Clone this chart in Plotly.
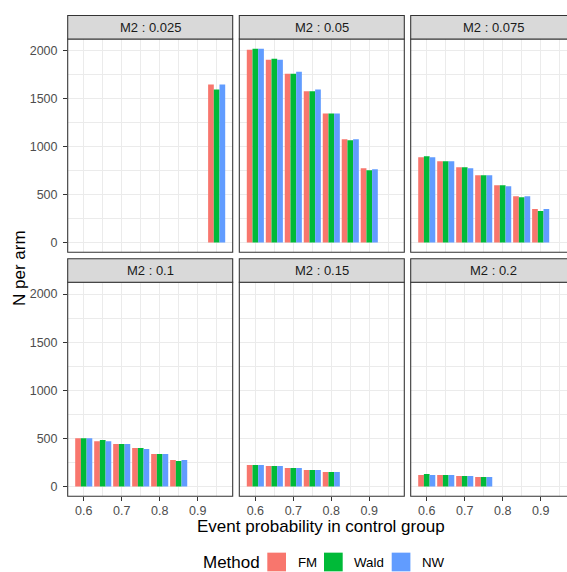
import plotly.graph_objects as go

# ---- data -------------------------------------------------------------
p_control = [0.6, 0.65, 0.7, 0.75, 0.8, 0.85, 0.9, 0.95]
m2_levels = ["0.025", "0.05", "0.075", "0.1", "0.15", "0.2"]
methods = ["FM", "Wald", "NW"]
colors = ["#F8766D", "#00BA38", "#619CFF"]

N = None
fm_025 = [N, N, N, N, N, N, N, 1648]
wald_025 = [N, N, N, N, N, N, N, 1595]
nw_025 = [N, N, N, N, N, N, N, 1648]

fm_05 = [2010, 1907, 1761, 1578, 1346, 1076, 775, N]
wald_05 = [2021, 1917, 1761, 1578, 1346, 1066, 754, N]
nw_05 = [2021, 1907, 1782, 1595, 1346, 1076, 765, N]

fm_075 = [889, 848, 785, 702, 599, 484, 349, N]
wald_075 = [900, 848, 785, 702, 599, 474, 329, N]
nw_075 = [889, 848, 775, 702, 588, 484, 349, N]

fm_1 = [503, 472, 441, 400, 338, 276, N, N]
wald_1 = [503, 483, 441, 400, 338, 266, N, N]
nw_1 = [503, 472, 441, 390, 338, 276, N, N]

fm_15 = [224, 214, 193, 172, 152, N, N, N]
wald_15 = [224, 214, 193, 172, 152, N, N, N]
nw_15 = [224, 214, 193, 172, 152, N, N, N]

fm_2 = [121, 121, 110, 100, N, N, N, N]
wald_2 = [131, 121, 110, 100, N, N, N, N]
nw_2 = [121, 121, 110, 100, N, N, N, N]

panel_values = [
    [fm_025, wald_025, nw_025],
    [fm_05, wald_05, nw_05],
    [fm_075, wald_075, nw_075],
    [fm_1, wald_1, nw_1],
    [fm_15, wald_15, nw_15],
    [fm_2, wald_2, nw_2],
]

# ---- layout geometry (pixels) -----------------------------------------
W, H = 567, 572
col_px = [(67.7, 232.7), (239.3, 404.3), (410.7, 575.7)]
row_px = [(39.0, 252.3), (282.3, 496.3)]
strip_h = 23.5

def fx(px):
    return px / W

def fy(py):
    return 1 - py / H

FONT = "Liberation Sans, Arial, Helvetica, sans-serif"
GRID = "#EBEBEB"
BORDER = "#333333"
TICK_SIZE = 12.5
STRIP_SIZE = 13
TITLE_SIZE = 17
LEGEND_LABEL_SIZE = 13.3

# dodge geometry: group width 0.9 of the 0.05 spacing, three bars
step = 0.05
group_w = 0.9 * step
bar_w = group_w / len(methods)

x_lo = min(p_control) - group_w / 2
x_hi = max(p_control) + group_w / 2
x_pad = 0.05 * (x_hi - x_lo)
x_range = [x_lo - x_pad, x_hi + x_pad]

all_vals = [v for panel in panel_values for s in panel for v in s if v is not None]
y_max = max(all_vals)
y_range = [-0.05 * y_max, y_max * 1.05]

fig = go.Figure()
shapes = []
annotations = []

for k, (level, series) in enumerate(zip(m2_levels, panel_values)):
    r, c = divmod(k, 3)
    ax = "" if k == 0 else str(k + 1)
    xa, ya = "x" + ax, "y" + ax
    (x0p, x1p), (y0p, y1p) = col_px[c], row_px[r]

    # the right column runs past the page edge; clip its data range accordingly
    vis_x1p = min(x1p, W)
    frac = (vis_x1p - x0p) / (x1p - x0p)
    xr = [x_range[0], x_range[0] + frac * (x_range[1] - x_range[0])]

    for i, (m, col, vals) in enumerate(zip(methods, colors, series)):
        xs = [p for p, v in zip(p_control, vals) if v is not None]
        ys = [v for v in vals if v is not None]
        fig.add_trace(go.Bar(
            x=xs, y=ys, name=m, marker=dict(color=col, line=dict(width=0)),
            width=bar_w, offset=-group_w / 2 + i * bar_w,
            xaxis=xa, yaxis=ya, showlegend=False,
            hovertemplate=f"{m}<br>p=%{{x}}<br>N=%{{y}}<extra>M2 : {level}</extra>",
        ))

    xaxis = dict(
        domain=[fx(x0p), fx(vis_x1p)], range=xr, anchor=ya,
        tick0=0.6, dtick=0.1, showgrid=True, gridcolor=GRID, gridwidth=1.1,
        minor=dict(tick0=0.65, dtick=0.1, showgrid=True, gridcolor=GRID, gridwidth=0.55),
        zeroline=False, showline=False, tickformat=".1f",
        tickfont=dict(family=FONT, size=TICK_SIZE, color="#4D4D4D"),
        ticks="outside" if r == 1 else "", ticklen=3.7, tickwidth=1.07,
        tickcolor=BORDER, showticklabels=(r == 1), fixedrange=True,
        ticklabelstandoff=-1,
    )
    yaxis = dict(
        domain=[fy(y1p), fy(y0p)], range=y_range, anchor=xa,
        tick0=0, dtick=500, showgrid=True, gridcolor=GRID, gridwidth=1.1,
        minor=dict(tick0=250, dtick=500, showgrid=True, gridcolor=GRID, gridwidth=0.55),
        zeroline=False, showline=False,
        tickfont=dict(family=FONT, size=TICK_SIZE, color="#4D4D4D"),
        ticks="outside" if c == 0 else "", ticklen=3.7, tickwidth=1.07,
        tickcolor=BORDER, showticklabels=(c == 0), fixedrange=True,
        ticklabelstandoff=3,
    )
    fig.layout["xaxis" + ax] = xaxis
    fig.layout["yaxis" + ax] = yaxis

    # panel border
    shapes.append(dict(type="rect", xref="paper", yref="paper",
                       x0=fx(x0p), x1=fx(x1p), y0=fy(y1p), y1=fy(y0p),
                       line=dict(color=BORDER, width=1.07), fillcolor="rgba(0,0,0,0)",
                       layer="above"))
    # strip
    shapes.append(dict(type="rect", xref="paper", yref="paper",
                       x0=fx(x0p), x1=fx(x1p), y0=fy(y0p), y1=fy(y0p - strip_h),
                       line=dict(color=BORDER, width=1.07), fillcolor="#D9D9D9",
                       layer="above"))
    annotations.append(dict(text=f"M2 : {level}", xref="paper", yref="paper",
                            x=fx((x0p + x1p) / 2), y=fy(y0p - strip_h / 2),
                            xanchor="center", yanchor="middle", showarrow=False,
                            font=dict(family=FONT, size=STRIP_SIZE, color="#1A1A1A")))

# axis titles
annotations.append(dict(text="N per arm", xref="paper", yref="paper",
                        x=fx(19), y=fy(268), textangle=-90, showarrow=False,
                        xanchor="center", yanchor="middle",
                        font=dict(family=FONT, size=TITLE_SIZE, color="black")))
annotations.append(dict(text="Event probability in control group", xref="paper", yref="paper",
                        x=fx(321), y=fy(526.5), showarrow=False,
                        xanchor="center", yanchor="middle",
                        font=dict(family=FONT, size=TITLE_SIZE, color="black")))

# legend: title, coloured keys and labels
legend_y = 562
key = 18.7
annotations.append(dict(text="Method", xref="paper", yref="paper",
                        x=fx(201.0), y=fy(legend_y), showarrow=False,
                        xanchor="left", yanchor="middle",
                        font=dict(family=FONT, size=TITLE_SIZE, color="black")))
key_x = [267.3, 324.0, 391.7]
for m, col, kx in zip(methods, colors, key_x):
    shapes.append(dict(type="rect", xref="paper", yref="paper",
                       x0=fx(kx), x1=fx(kx + key), y0=fy(legend_y + key / 2),
                       y1=fy(legend_y - key / 2), line=dict(width=0), fillcolor=col))
    annotations.append(dict(text=m, xref="paper", yref="paper",
                            x=fx(kx + key + 9.5), y=fy(legend_y), showarrow=False,
                            xanchor="left", yanchor="middle",
                            font=dict(family=FONT, size=LEGEND_LABEL_SIZE, color="black")))

fig.update_layout(
    width=W, height=H, margin=dict(l=0, r=0, t=0, b=0),
    paper_bgcolor="white", plot_bgcolor="white",
    barmode="overlay", showlegend=False,
    shapes=shapes, annotations=annotations,
    font=dict(family=FONT),
)

fig.write_html("out.html", config={"displayModeBar": False})
